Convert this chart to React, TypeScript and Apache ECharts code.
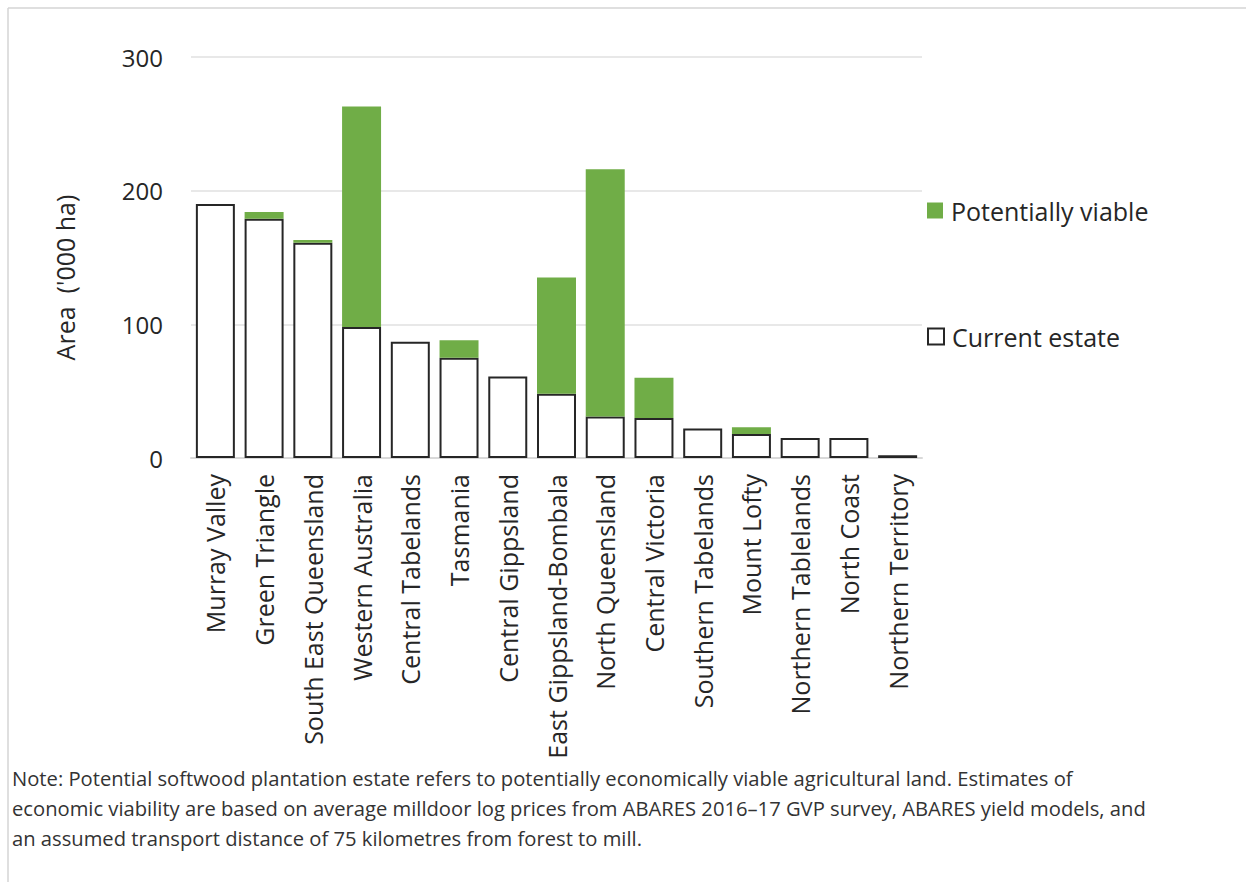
import React, { useEffect, useRef } from "react";
import * as echarts from "echarts";

const categories = [
  "Murray Valley",
  "Green Triangle",
  "South East Queensland",
  "Western Australia",
  "Central Tabelands",
  "Tasmania",
  "Central Gippsland",
  "East Gippsland-Bombala",
  "North Queensland",
  "Central Victoria",
  "Southern Tabelands",
  "Mount Lofty",
  "Northern Tablelands",
  "North Coast",
  "Northern Territory",
];

const currentEstate = [190, 179, 161, 98, 87, 75, 61, 48, 31, 30, 22, 18, 15, 15, 2];
const potentiallyViable = [0, 5, 2, 165, 0, 13, 0, 87, 185, 30, 0, 5, 0, 0, 0];

const yTicks = { min: 0, max: 300, interval: 100 };

const noteLines = [
  "Note: Potential softwood plantation estate refers to potentially economically viable agricultural land. Estimates of",
  "economic viability are based on average milldoor log prices from ABARES 2016\u201317 GVP survey, ABARES yield models, and",
  "an assumed transport distance of 75 kilometres from forest to mill.",
];

const FONT = "Open Sans";
const TEXT = "#262626";
const GREEN = "#70ad47";

export default function App() {
  const ref = useRef<HTMLDivElement>(null);

  useEffect(() => {
    if (!ref.current) return;
    const chart = echarts.init(ref.current, undefined, { renderer: "svg" });
    chart.setOption({
      animation: false,
      backgroundColor: "#ffffff",
      textStyle: { fontFamily: FONT, color: TEXT },
      grid: { left: 191, right: 324, top: 57, bottom: 424, containLabel: false },
      legend: [
        {
          data: ["Potentially viable"],
          left: 927,
          top: 198,
          padding: 0,
          itemWidth: 16,
          itemHeight: 16,
          icon: "rect",
          textStyle: { fontFamily: FONT, fontSize: 25, color: TEXT, padding: [0, 0, 0, 3] },
        },
        {
          data: ["Current estate"],
          left: 927,
          top: 324,
          padding: 0,
          itemWidth: 16,
          itemHeight: 16,
          icon: "rect",
          textStyle: { fontFamily: FONT, fontSize: 25, color: TEXT, padding: [0, 0, 0, 3] },
        },
      ],
      xAxis: {
        type: "category",
        data: categories,
        axisLine: { show: true, lineStyle: { color: "#d9d9d9", width: 2 } },
        axisTick: { show: false },
        axisLabel: {
          rotate: 90,
          interval: 0,
          margin: 16,
          fontFamily: FONT,
          fontSize: 25,
          color: TEXT,
        },
      },
      yAxis: {
        type: "value",
        min: yTicks.min,
        max: yTicks.max,
        interval: yTicks.interval,
        name: "Area  ('000 ha)",
        nameLocation: "middle",
        nameRotate: 90,
        nameGap: 114,
        nameTextStyle: { fontFamily: FONT, fontSize: 25, color: TEXT, padding: [0, 40, 0, 0] },
        axisLine: { show: false },
        axisTick: { show: false },
        axisLabel: { margin: 28, fontFamily: FONT, fontSize: 24, color: TEXT },
        splitLine: { lineStyle: { color: "#e0e0e0", width: 1.5 } },
      },
      series: [
        {
          name: "Current estate",
          type: "bar",
          stack: "total",
          data: currentEstate,
          barWidth: "80%",
          itemStyle: { color: "#ffffff", borderColor: "#262626", borderWidth: 2 },
        },
        {
          name: "Potentially viable",
          type: "bar",
          stack: "total",
          data: potentiallyViable,
          barWidth: "80%",
          itemStyle: { color: GREEN },
        },
      ],
      graphic: [
        {
          type: "line",
          shape: { x1: 8, y1: 8, x2: 1246, y2: 8 },
          style: { stroke: "#d4d4d4", lineWidth: 1.5 },
          silent: true,
        },
        {
          type: "line",
          shape: { x1: 8, y1: 8, x2: 8, y2: 882 },
          style: { stroke: "#d4d4d4", lineWidth: 1.5 },
          silent: true,
        },
        ...noteLines.map((t, i) => ({
          type: "text",
          left: 12,
          top: 768 + i * 30,
          style: { text: t, fontFamily: FONT, fontSize: 20.2, fill: "#333333" },
          silent: true,
        })),
      ],
    });
    return () => chart.dispose();
  }, []);

  return (
    <div
      ref={ref}
      style={{ position: "fixed", left: 0, top: 0, width: 1246, height: 882 }}
    />
  );
}
